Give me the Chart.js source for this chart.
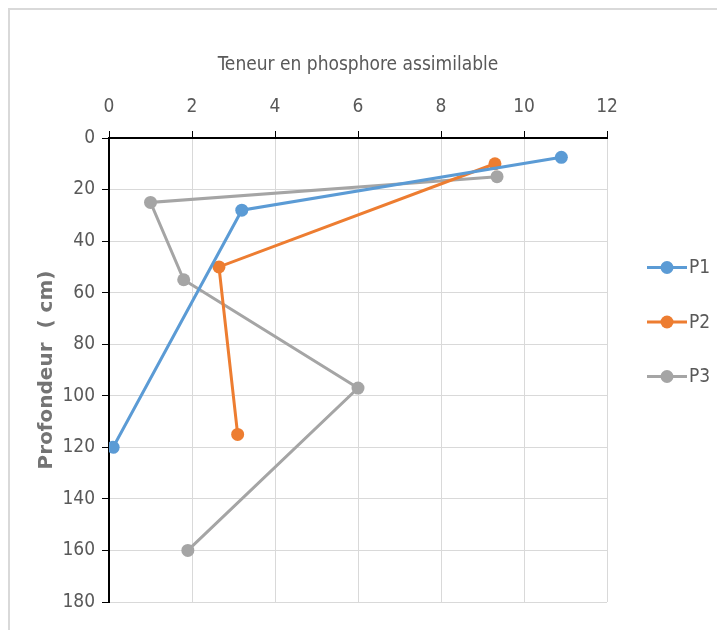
<!DOCTYPE html>
<html>
<head>
<meta charset="utf-8">
<script src="https://cdn.jsdelivr.net/npm/chart.js@4.4.1/dist/chart.umd.min.js"></script>
<style>
  body { margin: 0; background: #fff; overflow: hidden; }
  #frame { position: absolute; left: 8px; top: 8px; width: 707px; height: 620px;
           border-left: 2px solid #d9d9d9; border-top: 2px solid #d9d9d9; }
  #graph { position: absolute; left: 0; top: 0; }
</style>
</head>
<body>
<div id="frame"></div>
<canvas id="graph" width="717" height="630"></canvas>
<script>
// teneur (x) against profondeur in cm (y), one profile per pit
let p1Teneur = [10.9, 3.2, 0.1];
let p1Profondeur = [7.5, 28, 120];

let p2Teneur = [9.3, 2.65, 3.1];
let p2Profondeur = [10, 50, 115];

let p3Teneur = [9.35, 1.0, 1.8, 6.0, 1.9];
let p3Profondeur = [15, 25, 55, 97, 160];

let xTicks = [0, 2, 4, 6, 8, 10, 12];
let yTicks = [0, 20, 40, 60, 80, 100, 120, 140, 160, 180];

let labelFont = "'DejaVu Sans Condensed', sans-serif";
let grey = '#595959';

function toPoints(xs, ys) {
    let pts = [];
    for (let i = 0; i < xs.length; i++) {
        pts.push({ x: xs[i], y: ys[i] });
    }
    return pts;
}

function profile(label, xs, ys, color) {
    return {
        label: label,
        data: toPoints(xs, ys),
        showLine: true,
        borderColor: color,
        backgroundColor: color,
        borderWidth: 3,
        pointRadius: 6.5,
        pointHoverRadius: 6.5,
        pointBorderWidth: 0
    };
}

// legend drawn by hand: short line with a dot, label on the right
let sideLegend = {
    id: 'sideLegend',
    afterDraw(chart) {
        let ctx = chart.ctx;
        let area = chart.chartArea;
        let x0 = area.right + 40;
        let mid = (area.top + area.bottom) / 2 - 48;
        ctx.save();
        chart.data.datasets.forEach(function (ds, i) {
            let y = mid + (i - 1) * 54.5;
            ctx.strokeStyle = ds.borderColor;
            ctx.lineWidth = 3;
            ctx.beginPath();
            ctx.moveTo(x0, y);
            ctx.lineTo(x0 + 40, y);
            ctx.stroke();
            ctx.fillStyle = ds.backgroundColor;
            ctx.beginPath();
            ctx.arc(x0 + 20, y, 6.5, 0, Math.PI * 2);
            ctx.fill();
            ctx.fillStyle = grey;
            ctx.font = '19px ' + labelFont;
            ctx.textBaseline = 'middle';
            ctx.textAlign = 'left';
            ctx.fillText(ds.label, x0 + 42, y + 1);
        });
        ctx.restore();
    }
};

let ctx = document.getElementById('graph');

let myChart = new Chart(ctx, {
    type: 'scatter',
    data: {
        datasets: [
            profile('P1', p1Teneur, p1Profondeur, '#5b9bd5'),
            profile('P2', p2Teneur, p2Profondeur, '#ed7d31'),
            profile('P3', p3Teneur, p3Profondeur, '#a5a5a5')
        ]
    },
    options: {
        responsive: false,
        animation: false,
        devicePixelRatio: 1,
        layout: { padding: { left: 0, top: 0, right: 110, bottom: 28 } },
        plugins: {
            legend: { display: false },
            tooltip: { enabled: false }
        },
        scales: {
            x: {
                type: 'linear',
                position: 'top',
                min: xTicks[0],
                max: xTicks[xTicks.length - 1],
                afterBuildTicks: function (scale) {
                    scale.ticks = xTicks.map(function (v) { return { value: v }; });
                },
                afterFit: function (scale) { scale.height = 138; },
                ticks: { color: grey, font: { family: labelFont, size: 19 }, padding: 13 },
                grid: { color: '#d9d9d9', lineWidth: 1, tickColor: '#000', tickLength: 7 },
                border: { color: '#000', width: 2 },
                title: {
                    display: true,
                    text: 'Teneur en phosphore assimilable',
                    color: grey,
                    font: { family: labelFont, size: 19 },
                    padding: { top: 54, bottom: 0 }
                }
            },
            y: {
                type: 'linear',
                reverse: true,
                min: yTicks[0],
                max: yTicks[yTicks.length - 1],
                afterBuildTicks: function (scale) {
                    scale.ticks = yTicks.map(function (v) { return { value: v }; });
                },
                afterFit: function (scale) { scale.width = 109; },
                ticks: { color: grey, font: { family: labelFont, size: 19 }, padding: 7 },
                grid: { color: '#d9d9d9', lineWidth: 1, tickColor: '#000', tickLength: 7 },
                border: { color: '#000', width: 2 },
                title: {
                    display: true,
                    text: 'Profondeur  ( cm)',
                    color: '#747474',
                    font: { family: "'DejaVu Sans', sans-serif", size: 20, weight: 'bold' },
                    padding: { top: 35, bottom: 0 }
                }
            }
        }
    },
    plugins: [sideLegend]
});
</script>
</body>
</html>
